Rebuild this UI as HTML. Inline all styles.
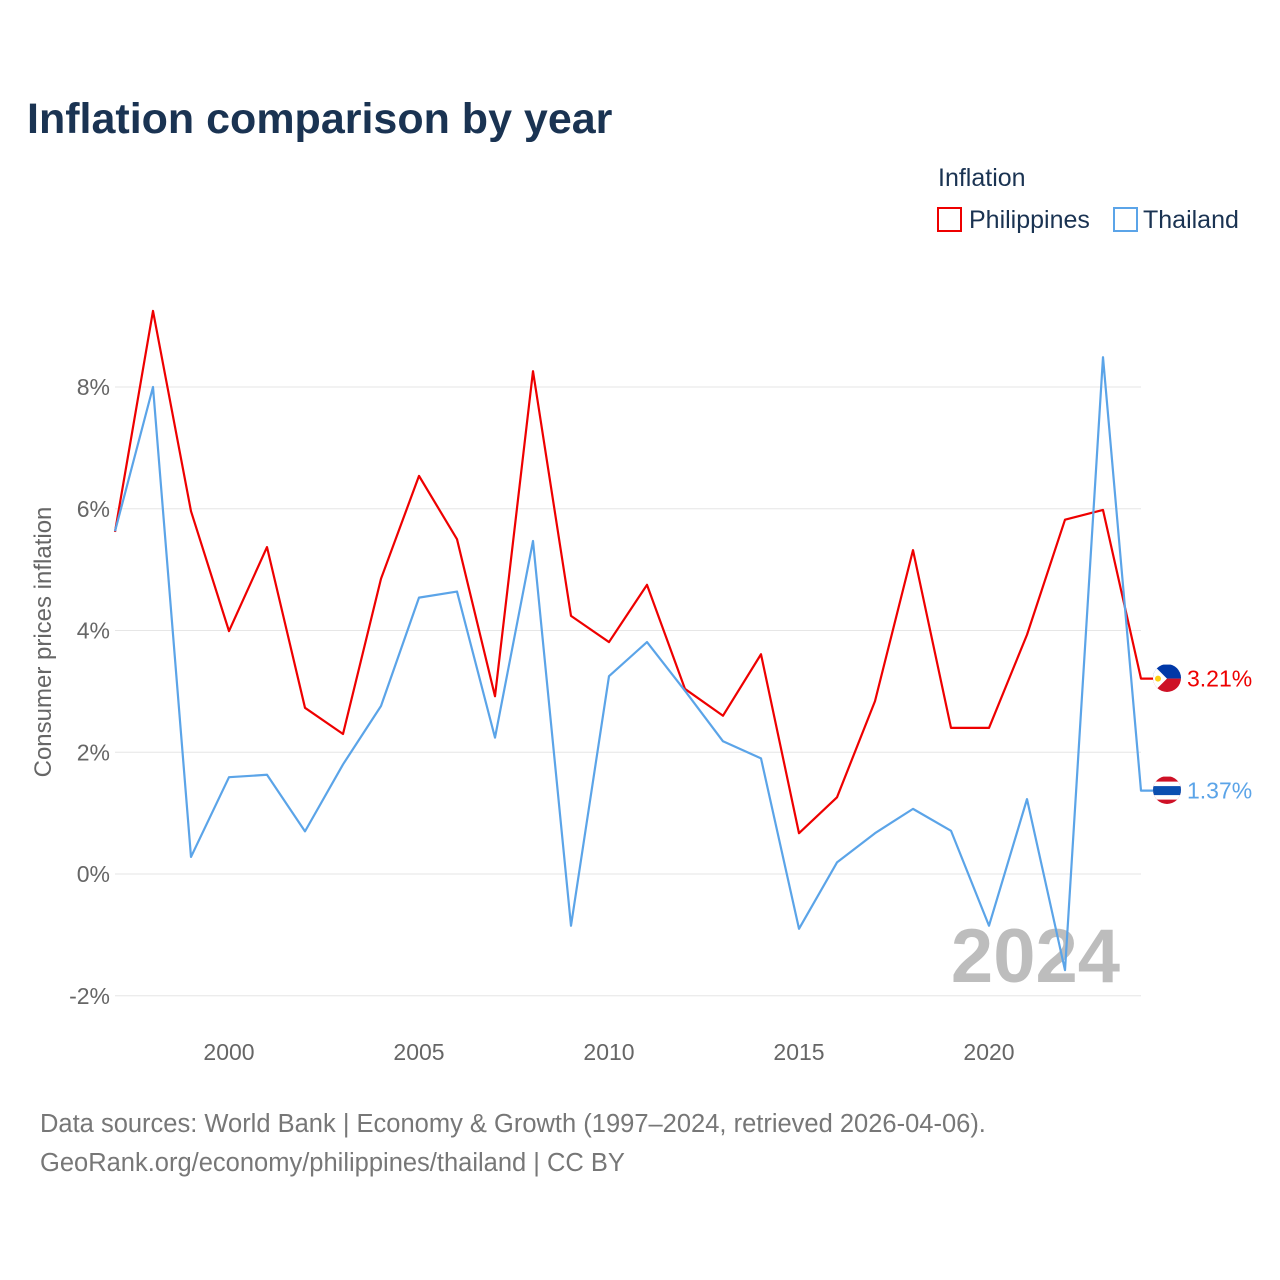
<!DOCTYPE html>
<html><head><meta charset="utf-8">
<style>
body{margin:0;background:#fff;font-family:"Liberation Sans",sans-serif;}
#wrap{position:relative;width:1280px;height:1280px;overflow:hidden;}
</style></head>
<body>
<div id="wrap">
<svg id="chart" width="1280" height="1280" xmlns="http://www.w3.org/2000/svg">
<defs>
<clipPath id="cpPH"><circle cx="1167" cy="678" r="14"/></clipPath>
<clipPath id="cpTH"><circle cx="1167" cy="790" r="14"/></clipPath>
</defs>
<text x="27" y="133" font-size="43" font-weight="bold" fill="#1a3352">Inflation comparison by year</text>
<text x="938" y="186" font-size="25" fill="#1a3352">Inflation</text>
<g>
<rect x="938" y="208" width="23" height="23" fill="none" stroke="#ee0000" stroke-width="2"/>
<text x="969" y="228" font-size="25" fill="#1a3352">Philippines</text></g>
<g>
<rect x="1114" y="208" width="23" height="23" fill="none" stroke="#5ba4e8" stroke-width="2"/>
<text x="1143" y="228" font-size="25" fill="#1a3352">Thailand</text></g>
<g id="grid"></g>
<g id="yticks"></g>
<g id="xticks"></g>
<text x="1120" y="982" text-anchor="end" font-size="76" font-weight="bold" fill="#bdbdbd">2024</text>
<text transform="translate(51,642) rotate(-90)" text-anchor="middle" font-size="24" fill="#666">Consumer prices inflation</text>
<g id="series"></g>
<text x="40" y="1132" font-size="25.5" fill="#777">Data sources: World Bank | Economy &amp; Growth (1997–2024, retrieved 2026-04-06).</text>
<text x="40" y="1171" font-size="25.5" fill="#777">GeoRank.org/economy/philippines/thailand | CC BY</text>
</svg>
</div>
<script>
const years=[1997,1998,1999,2000,2001,2002,2003,2004,2005,2006,2007,2008,2009,2010,2011,2012,2013,2014,2015,2016,2017,2018,2019,2020,2021,2022,2023,2024];
const philippines=[5.62,9.25,5.96,3.99,5.37,2.73,2.30,4.85,6.54,5.50,2.92,8.26,4.24,3.81,4.75,3.04,2.60,3.61,0.67,1.26,2.84,5.32,2.40,2.40,3.93,5.82,5.98,3.21];
const thailand=[5.63,8.0,0.28,1.59,1.63,0.70,1.80,2.76,4.54,4.64,2.24,5.47,-0.85,3.25,3.81,3.01,2.18,1.90,-0.90,0.19,0.67,1.07,0.71,-0.85,1.23,-1.58,8.49,1.37];
const yTicks=[-2,0,2,4,6,8];
const xTicks=[2000,2005,2010,2015,2020];
const NS="http://www.w3.org/2000/svg";
const X=y=>115+(y-1997)*38;
const Y=v=>874-v*60.875;
function mk(t,a,p){const e=document.createElementNS(NS,t);for(const k in a)e.setAttribute(k,a[k]);p.appendChild(e);return e;}
const grid=document.getElementById('grid'),yt=document.getElementById('yticks'),xt=document.getElementById('xticks'),se=document.getElementById('series');
yTicks.forEach(v=>{
 const l=mk('line',{x1:115,x2:1141,y1:Y(v),y2:Y(v),stroke:'#e6e6e6','stroke-width':1},grid);
 
 
 const t=mk('text',{x:110,y:Y(v)+8,'text-anchor':'end','font-size':23,fill:'#666'},yt);
 t.textContent=v+'%';
 
 
});
xTicks.forEach(y=>{
 const t=mk('text',{x:X(y),y:1060,'text-anchor':'middle','font-size':23,fill:'#666'},xt);
 t.textContent=y;
 
 
});
function flag(kind,cy,clip){
 const g=mk('g',{'clip-path':'url(#'+clip+')'},se);
 const x0=1153,y0=cy-14;
 if(kind==='ph'){
  mk('rect',{x:x0,y:y0,width:28,height:14,fill:'#0038a8'},g);
  mk('rect',{x:x0,y:cy,width:28,height:14,fill:'#ce1126'},g);
  mk('polygon',{points:x0+','+y0+' '+(x0+14)+','+cy+' '+x0+','+(cy+14),fill:'#fff'},g);
  mk('circle',{cx:x0+5,cy:cy,r:3,fill:'#fcd116'},g);
 }else{
  const cols=['#ce1126','#fff','#2d2a4a','#2d2a4a','#fff','#ce1126'];
  mk('rect',{x:x0,y:y0,width:28,height:28,fill:'#ce1126'},g);
  mk('rect',{x:x0,y:y0+5,width:28,height:18,fill:'#fff'},g);
  mk('rect',{x:x0,y:y0+9.5,width:28,height:9,fill:'#0b4fb0'},g);
 }
 return g;
}
function series(vals,color,name,kind,clip){
 let d=years.map((y,i)=>(i?'L':'M')+X(y)+' '+Y(vals[i])).join(' ');
 const last=vals[vals.length-1];
 d+=' L'+(X(2024)+12)+' '+Y(last);
 const p=mk('path',{d:d,fill:'none',stroke:color,'stroke-width':2.2,'stroke-linejoin':'round'},se);
 
 
 const f=flag(kind,Y(last),clip);
 
 
 const t=mk('text',{x:1187,y:Y(last)+8,'font-size':23,fill:color},se);
 t.textContent=last.toFixed(2)+'%';
 
 
}
series(philippines,'#ee0000','philippines','ph','cpPH');
series(thailand,'#5ba4e8','thailand','th','cpTH');
</script>
</body></html>
